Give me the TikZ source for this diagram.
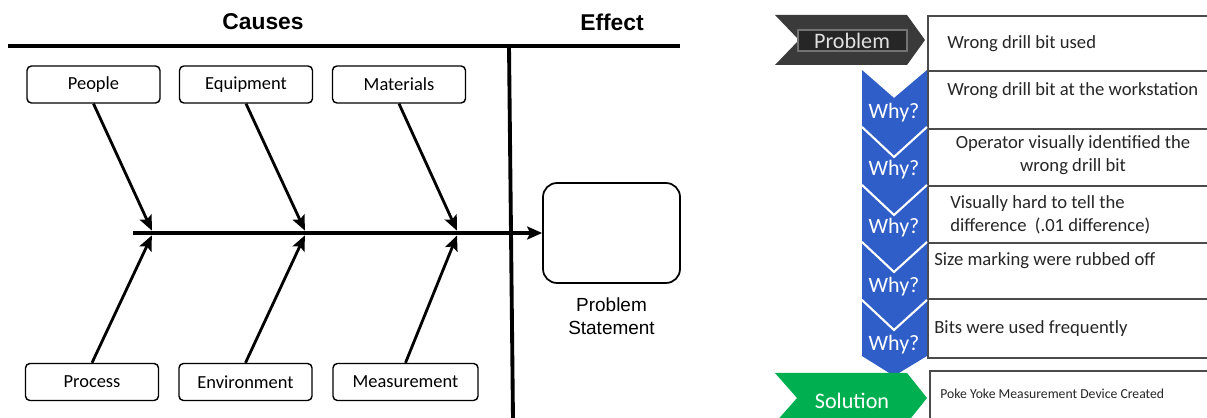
\documentclass[tikz,border=0pt]{standalone}
\usepackage{fontspec}
\setmainfont{Carlito}
\newfontfamily\arialfont{Liberation Sans}
\usepackage{tikz}
\usetikzlibrary{arrows.meta, positioning}
\definecolor{whyblue}{RGB}{47,94,200}
\definecolor{solgreen}{RGB}{0,176,80}
\definecolor{probgray}{RGB}{58,58,58}
\definecolor{rowline}{RGB}{75,75,75}
\tikzset{
  cause/.style={rectangle, rounded corners=2.5pt, draw=black, line width=0.8pt, fill=white, minimum width=2.66cm, minimum height=0.74cm, align=center, font=\fontsize{10.5}{12}\selectfont},
  effectbox/.style={rectangle, rounded corners=0.28cm, draw=black, line width=1pt, minimum width=2.74cm, minimum height=2cm},
  heading/.style={font=\arialfont\bfseries\fontsize{13}{15}\selectfont},
  thickline/.style={line width=2.2pt},
  bone/.style={-{Stealth[length=3mm, width=2.6mm, inset=0.6mm]}, line width=1.6pt, shorten >=1.5pt},
  spine/.style={-{Stealth[length=3mm, width=2.6mm, inset=0.6mm]}, line width=2pt},
  rowbox/.style={rectangle, draw=rowline, line width=1.2pt, fill=white, anchor=north west, minimum width=5.76cm, inner sep=0pt},
  rowtext/.style={anchor=west, font=\fontsize{10.6}{13}\selectfont, align=left, inner sep=0pt, text=black!85},
  why/.style={text=white, font=\fontsize{12.5}{14}\selectfont, inner sep=0pt},
  tag/.style={font=\fontsize{12.6}{14}\selectfont, inner sep=0pt}
}

\begin{document}
\begin{tikzpicture}[x=0.02cm, y=-0.02cm]
  \useasboundingbox (0,0) rectangle (1207,418);

  % fishbone
  \node[heading] (causes) at (263,22) {Causes};
  \node[heading] (effecthead) at (612,22) {Effect};
  \draw[thickline] (8,46) -- (680,46);
  \draw[thickline] (509,46) -- (513,420);

  \node[cause] (people) at (93.5,84.5) {People};
  \node[cause] (equip) at (246,84.5) {Equipment};
  \node[cause] (mater) at (399,84.5) {Materials};
  \node[cause] (process) at (92,382) {Process};
  \node[cause] (environ) at (245.5,382) {Environment};
  \node[cause, minimum width=2.9cm] (measure) at (405.5,382) {Measurement};

  \node[effectbox] (effect) at (611.5,233) {};
  \node[font=\arialfont\fontsize{10.8}{13}\selectfont, align=center, below=0.16cm of effect] (stmt) {Problem\\Statement};

  \coordinate (tail) at (133,233);
  \coordinate (j1) at (153,233);
  \coordinate (j2) at (306,233);
  \coordinate (j3) at (458,233);
  \draw[spine] (tail) -- (effect.west);
  \draw[bone] (people.south) -- (j1);
  \draw[bone] (equip.south) -- (j2);
  \draw[bone] (mater.south) -- (j3);
  \draw[bone] (process.north) -- (j1);
  \draw[bone] (environ.north) -- (j2);
  \draw[bone] (measure.north) -- (j3);

  % five whys
  \node[rowbox, minimum height=1.1cm] (r1) at (927,15) {};
  \node[rowbox, minimum height=1.16cm] (r2) at (927,70) {};
  \node[rowbox, minimum height=1.14cm] (r3) at (927,128) {};
  \node[rowbox, minimum height=1.14cm] (r4) at (927,185) {};
  \node[rowbox, minimum height=1.12cm] (r5) at (927,242) {};
  \node[rowbox, minimum height=1.18cm] (r6) at (927,298) {};
  \node[rowbox, minimum height=1.3cm] (r7) at (929,370) {};

  \node[rowtext] (t1) at (947,44) {Wrong drill bit used};
  \node[rowtext] (t2) at (947,91) {Wrong drill bit at the workstation};
  \node[rowtext, anchor=center, align=center] (t3) at (1073,155) {Operator visually identified the\\wrong drill bit};
  \node[rowtext] (t4) at (950,215) {Visually hard to tell the\\difference\ \ (.01 difference)};
  \node[rowtext] (t5) at (934,261) {Size marking were rubbed off};
  \node[rowtext] (t6) at (934,329) {Bits were used frequently};
  \node[rowtext, font=\fontsize{7.8}{9}\selectfont] (t7) at (940,394) {Poke Yoke Measurement Device Created};

  \fill[whyblue] (862,70) -- (894,98) -- (927,70) -- (927,356) -- (894,376) -- (862,356) -- cycle;
  \foreach \yy in {127,185,242,300}
    \draw[white, line width=1.2pt] (862,\yy) -- (894,\yy+30) -- (927,\yy);
  \node[why] (w1) at (894,113) {Why?};
  \node[why] (w2) at (894,170) {Why?};
  \node[why] (w3) at (894,228) {Why?};
  \node[why] (w4) at (894,287) {Why?};
  \node[why] (w5) at (894,345) {Why?};

  \fill[probgray] (775,15) -- (907,15) -- (925,40) -- (907,65) -- (775,65) -- (799,40) -- cycle;
  \draw[black!55, fill=black!85!white, line width=0.8pt] (798,30) rectangle (907,51);
  \node[tag, text=black!12] (prob) at (852,41) {Problem};

  \fill[solgreen] (775,373) -- (907,373) -- (927,398) -- (907,423) -- (775,423) -- (797,398) -- cycle;
  \node[tag, text=white] (sol) at (852,401) {Solution};
\end{tikzpicture}
\end{document}
